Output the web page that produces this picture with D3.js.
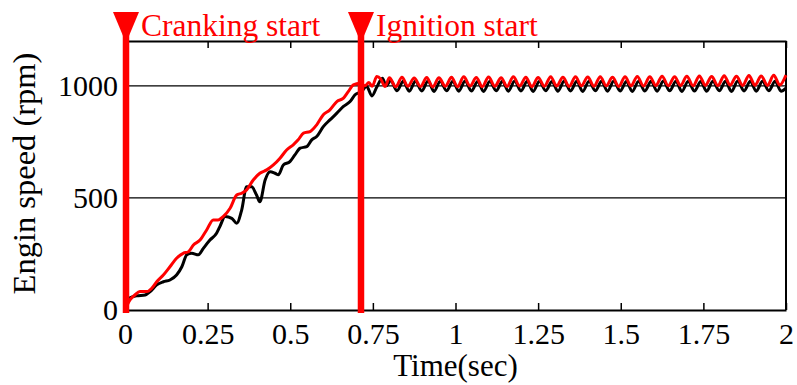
<!DOCTYPE html>
<html>
<head>
<meta charset="utf-8">
<script src="https://cdn.jsdelivr.net/npm/d3@7"></script>
<style>
  html, body { margin: 0; padding: 0; background: #fff; }
  svg { display: block; }
</style>
</head>
<body>
<svg id="chart" width="797" height="385"></svg>
<script>
const SERIF = "'Liberation Serif'";

// Axis ticks
const timeTicks = [0, 0.25, 0.5, 0.75, 1, 1.25, 1.5, 1.75, 2];
const timeTickLabels = ["0", "0.25", "0.5", "0.75", "1", "1.25", "1.5", "1.75", "2"];
const rpmTicks = [0, 500, 1000];
const rpmTickLabels = ["0", "500", "1000"];
const rpmGrid = [500, 1000];

// Event markers
const markerTimes = [0, 0.711];
const markerLabels = ["Cranking start", "Ignition start"];

// Engine speed, black trace [time (s), rpm]
const speedBlack = [
  [0, 0], [0.015, 54], [0.035, 63], [0.061, 67], [0.076, 82], [0.096, 112],
  [0.116, 126], [0.136, 134], [0.156, 156], [0.172, 193], [0.187, 246],
  [0.202, 253], [0.222, 246], [0.237, 275], [0.257, 312], [0.277, 342],
  [0.287, 372], [0.303, 417], [0.323, 409], [0.338, 387], [0.353, 446],
  [0.368, 550], [0.383, 550], [0.398, 513], [0.408, 483], [0.424, 580],
  [0.439, 617], [0.454, 610], [0.464, 603], [0.479, 647], [0.499, 662],
  [0.514, 692], [0.530, 722], [0.550, 729], [0.565, 759], [0.580, 774],
  [0.600, 818], [0.620, 848], [0.641, 878], [0.661, 908], [0.681, 930],
  [0.696, 960], [0.716, 975], [0.731, 998], [0.747, 955], [0.762, 995],
  [0.779, 1034], [0.790, 1000],
  [0.804, 1024], [0.823, 978], [0.842, 1021], [0.860, 976], [0.879, 1020],
  [0.898, 977], [0.917, 1022], [0.935, 975], [0.954, 1021], [0.973, 978],
  [0.992, 1020], [1.010, 976], [1.029, 1022], [1.048, 977], [1.067, 1019],
  [1.085, 975], [1.104, 1021], [1.123, 978], [1.142, 1020], [1.160, 976],
  [1.179, 1022], [1.198, 977], [1.217, 1020], [1.235, 975], [1.254, 1021],
  [1.273, 978], [1.292, 1019], [1.310, 976], [1.329, 1022], [1.348, 977],
  [1.367, 1020], [1.385, 975], [1.404, 1021], [1.423, 978], [1.442, 1020],
  [1.460, 976], [1.479, 1022], [1.498, 977], [1.517, 1019], [1.535, 975],
  [1.554, 1021], [1.573, 977], [1.592, 1020], [1.610, 976], [1.629, 1022],
  [1.648, 978], [1.667, 1020], [1.685, 975], [1.704, 1021], [1.723, 977],
  [1.742, 1019], [1.760, 976], [1.779, 1021], [1.798, 978], [1.817, 1020],
  [1.835, 975], [1.854, 1022], [1.873, 977], [1.892, 1020], [1.910, 976],
  [1.929, 1021], [1.948, 978], [1.967, 1020], [1.985, 976], [2.000, 990]
];

// Engine speed, red trace [time (s), rpm]
const speedRed = [
  [0, 0], [0.015, 45], [0.030, 67], [0.045, 82], [0.066, 82], [0.081, 97],
  [0.096, 126], [0.116, 156], [0.136, 193], [0.156, 231], [0.176, 253],
  [0.192, 260], [0.207, 290], [0.227, 312], [0.247, 357], [0.267, 402],
  [0.282, 402], [0.297, 417], [0.318, 454], [0.338, 513], [0.353, 521],
  [0.368, 536], [0.388, 580], [0.408, 610], [0.429, 625], [0.449, 647],
  [0.469, 677], [0.489, 714], [0.509, 737], [0.524, 759], [0.540, 789],
  [0.560, 796], [0.580, 826], [0.600, 871], [0.620, 893], [0.641, 930],
  [0.661, 945], [0.676, 975], [0.691, 1004], [0.711, 1012], [0.726, 1000],
  [0.738, 1015], [0.748, 998], [0.762, 1042], [0.774, 1030], [0.787, 997],
  [0.800, 1036], [0.819, 996], [0.838, 1038], [0.856, 998], [0.875, 1035],
  [0.894, 997], [0.913, 1037], [0.931, 995], [0.950, 1036], [0.969, 998],
  [0.988, 1038], [1.006, 996], [1.025, 1040], [1.044, 999], [1.063, 1037],
  [1.081, 996], [1.100, 1039], [1.119, 998], [1.138, 1036], [1.156, 997],
  [1.175, 1040], [1.194, 999], [1.213, 1038], [1.231, 996], [1.250, 1037],
  [1.269, 998], [1.288, 1041], [1.306, 999], [1.325, 1038], [1.344, 997],
  [1.363, 1040], [1.381, 1000], [1.400, 1039], [1.419, 998], [1.438, 1041],
  [1.456, 1000], [1.475, 1038], [1.494, 997], [1.513, 1040], [1.531, 1000],
  [1.550, 1042], [1.569, 999], [1.588, 1040], [1.606, 1001], [1.625, 1043],
  [1.644, 1000], [1.663, 1041], [1.681, 1002], [1.700, 1043], [1.719, 1000],
  [1.738, 1044], [1.756, 1002], [1.775, 1042], [1.794, 1001], [1.813, 1045],
  [1.831, 1003], [1.850, 1043], [1.869, 1002], [1.888, 1046], [1.906, 1003],
  [1.925, 1044], [1.944, 1002], [1.963, 1047], [1.981, 1004], [2.000, 1048]
];

const svg = d3.select("#chart");
const W = 797, H = 385;
const margin = { top: 41, right: 11, bottom: 75, left: 125 };
const iw = W - margin.left - margin.right;
const ih = H - margin.top - margin.bottom;

const x = d3.scaleLinear().domain([0, 2]).range([0, iw]);
const y = d3.scaleLinear().domain([0, 1200]).range([ih, 0]);

const g = svg.append("g").attr("transform", `translate(${margin.left},${margin.top})`);

// Horizontal grid lines
g.append("g").selectAll("line").data(rpmGrid).join("line")
  .attr("x1", 0).attr("x2", iw)
  .attr("y1", d => y(d)).attr("y2", d => y(d))
  .attr("stroke", "#000").attr("stroke-width", 1.3);

// Bottom axis with inward ticks
const xAxis = d3.axisBottom(x).tickValues(timeTicks)
  .tickFormat((d, i) => timeTickLabels[i])
  .tickSizeInner(-7).tickSizeOuter(0).tickPadding(13);
const gx = g.append("g").attr("transform", `translate(0,${ih})`).call(xAxis)
  .attr("font-family", SERIF).attr("font-size", 30);
gx.select(".domain").attr("stroke", "#000").attr("stroke-width", 2.2);
gx.selectAll(".tick line").attr("stroke", "#000").attr("stroke-width", 1.5);
gx.selectAll(".tick text").attr("fill", "#000").style("font-family", SERIF);

// Top frame with inward ticks, no labels
const xTop = d3.axisTop(x).tickValues(timeTicks).tickFormat("")
  .tickSizeInner(-7).tickSizeOuter(0);
const gt = g.append("g").call(xTop);
gt.select(".domain").attr("stroke", "#000").attr("stroke-width", 2);
gt.selectAll(".tick line").attr("stroke", "#000").attr("stroke-width", 1.5);

// Left axis labels
const yAxis = d3.axisLeft(y).tickValues(rpmTicks)
  .tickFormat((d, i) => rpmTickLabels[i])
  .tickSize(0).tickPadding(7);
const gy = g.append("g").call(yAxis)
  .attr("font-family", SERIF).attr("font-size", 30);
gy.select(".domain").attr("stroke", "#000").attr("stroke-width", 2);
gy.selectAll(".tick text").attr("fill", "#000").style("font-family", SERIF);

// Right frame edge
g.append("line")
  .attr("x1", x(2)).attr("x2", x(2))
  .attr("y1", 0).attr("y2", ih)
  .attr("stroke", "#000").attr("stroke-width", 2);

// Speed traces
const line = d3.line()
  .x(d => x(d[0])).y(d => y(d[1]))
  .curve(d3.curveMonotoneX);

g.append("path").datum(speedBlack)
  .attr("d", line).attr("fill", "none")
  .attr("stroke", "#000").attr("stroke-width", 3)
  .attr("stroke-linejoin", "round");

g.append("path").datum(speedRed)
  .attr("d", line).attr("fill", "none")
  .attr("stroke", "#ff0000").attr("stroke-width", 3)
  .attr("stroke-linejoin", "round");

// Event markers: thick red bar with a downward triangle and label
const markers = g.append("g").selectAll("g").data(markerTimes).join("g")
  .attr("transform", d => `translate(${x(d) + 1},0)`);

markers.append("line")
  .attr("x1", 0).attr("x2", 0)
  .attr("y1", -20).attr("y2", ih + 3)
  .attr("stroke", "#ff0000").attr("stroke-width", 6.5);

markers.append("path")
  .attr("d", "M-13,-29 L13,-29 L0,2 Z")
  .attr("fill", "#ff0000");

markers.append("text")
  .attr("x", 15).attr("y", -5)
  .attr("font-size", 31.5)
  .style("font-family", SERIF)
  .attr("fill", "#ff0000")
  .text((d, i) => markerLabels[i]);

// Axis titles
svg.append("text")
  .attr("x", margin.left + iw / 2).attr("y", 376)
  .attr("text-anchor", "middle")
  .attr("font-size", 31).style("font-family", SERIF)
  .text("Time(sec)");

svg.append("text")
  .attr("transform", `translate(35,${(50 + 297) / 2}) rotate(-90)`)
  .attr("text-anchor", "middle")
  .attr("font-size", 32.5).style("font-family", SERIF)
  .text("Engin speed (rpm)");
</script>
</body>
</html>
